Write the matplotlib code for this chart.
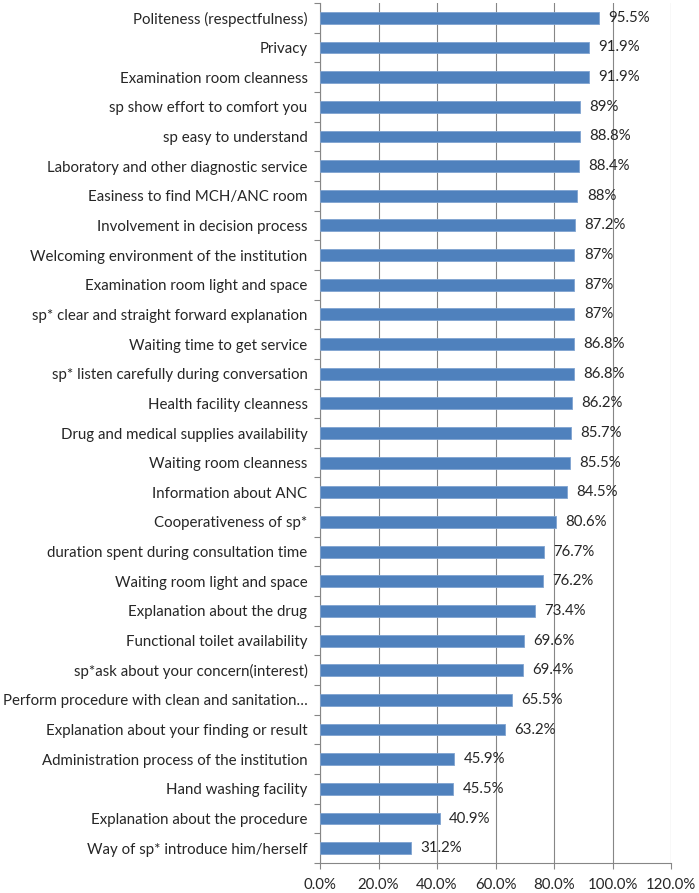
import matplotlib
matplotlib.use("Agg")
import matplotlib.pyplot as plt
from matplotlib.ticker import FixedLocator, NullFormatter

categories = [
    "Politeness (respectfulness)",
    "Privacy",
    "Examination room cleanness",
    "sp show effort to comfort you",
    "sp easy to understand",
    "Laboratory and other diagnostic service",
    "Easiness to find MCH/ANC room",
    "Involvement in decision process",
    "Welcoming environment of the institution",
    "Examination room light and space",
    "sp* clear and straight forward explanation",
    "Waiting time to get service",
    "sp* listen carefully during conversation",
    "Health facility cleanness",
    "Drug and medical supplies availability",
    "Waiting room cleanness",
    "Information about ANC",
    "Cooperativeness of sp*",
    "duration spent during consultation time",
    "Waiting room light and space",
    "Explanation about the drug",
    "Functional toilet availability",
    "sp*ask about your concern(interest)",
    "Perform procedure with clean and sanitation\u2026",
    "Explanation about your finding or result",
    "Administration process of the institution",
    "Hand washing facility",
    "Explanation about the procedure",
    "Way of sp* introduce him/herself",
]
values = [95.5, 91.9, 91.9, 89, 88.8, 88.4, 88, 87.2, 87, 87, 87, 86.8, 86.8,
          86.2, 85.7, 85.5, 84.5, 80.6, 76.7, 76.2, 73.4, 69.6, 69.4, 65.5,
          63.2, 45.9, 45.5, 40.9, 31.2]
value_labels = ["95.5%", "91.9%", "91.9%", "89%", "88.8%", "88.4%", "88%", "87.2%",
                "87%", "87%", "87%", "86.8%", "86.8%", "86.2%", "85.7%", "85.5%",
                "84.5%", "80.6%", "76.7%", "76.2%", "73.4%", "69.6%", "69.4%",
                "65.5%", "63.2%", "45.9%", "45.5%", "40.9%", "31.2%"]
xticks = [0, 20, 40, 60, 80, 100, 120]
xtick_labels = ["0.0%", "20.0%", "40.0%", "60.0%", "80.0%", "100.0%", "120.0%"]

plt.rcParams['font.family'] = ['Lato', 'DejaVu Sans']
text_color = "#262626"
fs = 10.8

fig = plt.figure(figsize=(6.99, 8.93), dpi=100)
ax = fig.add_axes([320/699, 1 - 863/893, (671 - 320)/699, (863 - 3)/893])

n = len(categories)
ypos = list(range(n - 1, -1, -1))
ax.barh(ypos, values, height=0.4, color="#4F81BD", edgecolor="#7FA3D0",
        linewidth=0.6, zorder=3)
for y, v, lab in zip(ypos, values, value_labels):
    ax.text(v + 3.2, y, lab, va="center", ha="left", fontsize=fs,
            color=text_color, zorder=4)

ax.set_xlim(0, 120)
ax.set_ylim(-0.5, n - 0.5)
ax.set_xticks(xticks)
ax.set_xticklabels(xtick_labels, fontsize=fs, color=text_color)
ax.set_yticks(ypos)
ax.set_yticklabels(categories, fontsize=fs, color=text_color)
ax.tick_params(axis="y", which="major", length=0, pad=9)
ax.yaxis.set_minor_locator(FixedLocator([i - 0.5 for i in range(n + 1)]))
ax.yaxis.set_minor_formatter(NullFormatter())
ax.tick_params(axis="y", which="minor", length=4, color="#868686", width=0.8)
ax.tick_params(axis="x", length=4, color="#868686", width=0.8, pad=7)

ax.grid(axis="x", color="#868686", linewidth=0.8, zorder=0)
for s in ["top", "right"]:
    ax.spines[s].set_visible(False)
for s in ["left", "bottom"]:
    ax.spines[s].set_color("#868686")
    ax.spines[s].set_linewidth(0.8)

fig.savefig("out.png", dpi=100)
